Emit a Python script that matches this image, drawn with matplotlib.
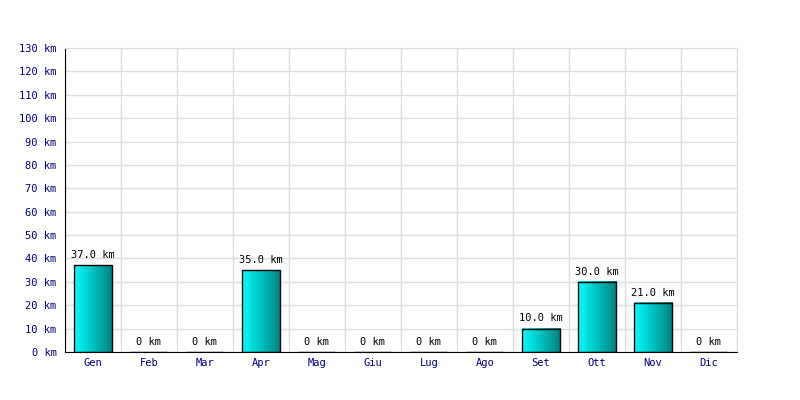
import numpy as np
import matplotlib.pyplot as plt
from matplotlib.colors import LinearSegmentedColormap

mesi = ['Gen', 'Feb', 'Mar', 'Apr', 'Mag', 'Giu', 'Lug', 'Ago', 'Set', 'Ott', 'Nov', 'Dic']
km = [37, 0, 0, 35, 0, 0, 0, 0, 10, 30, 21, 0]
y_ticks = list(range(0, 131, 10))

navy = '#000080'
grid_col = '#dddddd'
font = 'DejaVu Sans Mono'

fig = plt.figure(figsize=(8, 4), dpi=100)
ax = fig.add_axes([0.08125, 0.12, 0.84, 0.76])

# gradiente orizzontale ciano -> verde acqua scuro
cmap = LinearSegmentedColormap.from_list('ciano', ['#00ffff', '#008080'])
grad = np.linspace(0, 1, 256).reshape(1, -1)

larghezza = 0.68
x = np.arange(len(mesi))
barre = ax.bar(x, km, width=larghezza, facecolor='none', edgecolor='black', linewidth=1, zorder=3)
for b in barre:
    h = b.get_height()
    if h > 0:
        x0 = b.get_x()
        ax.imshow(grad, cmap=cmap, aspect='auto', extent=(x0, x0 + b.get_width(), 0, h),
                  zorder=2, interpolation='bicubic')

# etichette dei valori
for xi, v in zip(x, km):
    testo = f'{v:.1f} km' if v > 0 else '0 km'
    ax.text(xi, v + 2.2, testo, ha='center', va='bottom', fontsize=7.5, family=font, color='black')

ax.set_xlim(-0.5, len(mesi) - 0.5)
ax.set_ylim(0, 130)
ax.set_yticks(y_ticks)
ax.set_yticklabels([f'{t} km' for t in y_ticks], family=font, fontsize=7.5, color=navy)
ax.set_xticks(x)
ax.set_xticklabels(mesi, family=font, fontsize=7.5, color=navy)
ax.set_xticks(np.arange(-0.5, len(mesi)), minor=True)

ax.grid(True, which='major', axis='y', color=grid_col, linewidth=1, zorder=0)
ax.grid(True, which='minor', axis='x', color=grid_col, linewidth=1, zorder=0)
ax.set_axisbelow(True)
ax.tick_params(which='both', length=0)
ax.tick_params(axis='y', pad=6)
ax.tick_params(axis='x', pad=4)

for lato in ['top', 'right']:
    ax.spines[lato].set_color(grid_col)
ax.spines['left'].set_color('black')
ax.spines['bottom'].set_color('black')

fig.savefig('out.png', dpi=100)
